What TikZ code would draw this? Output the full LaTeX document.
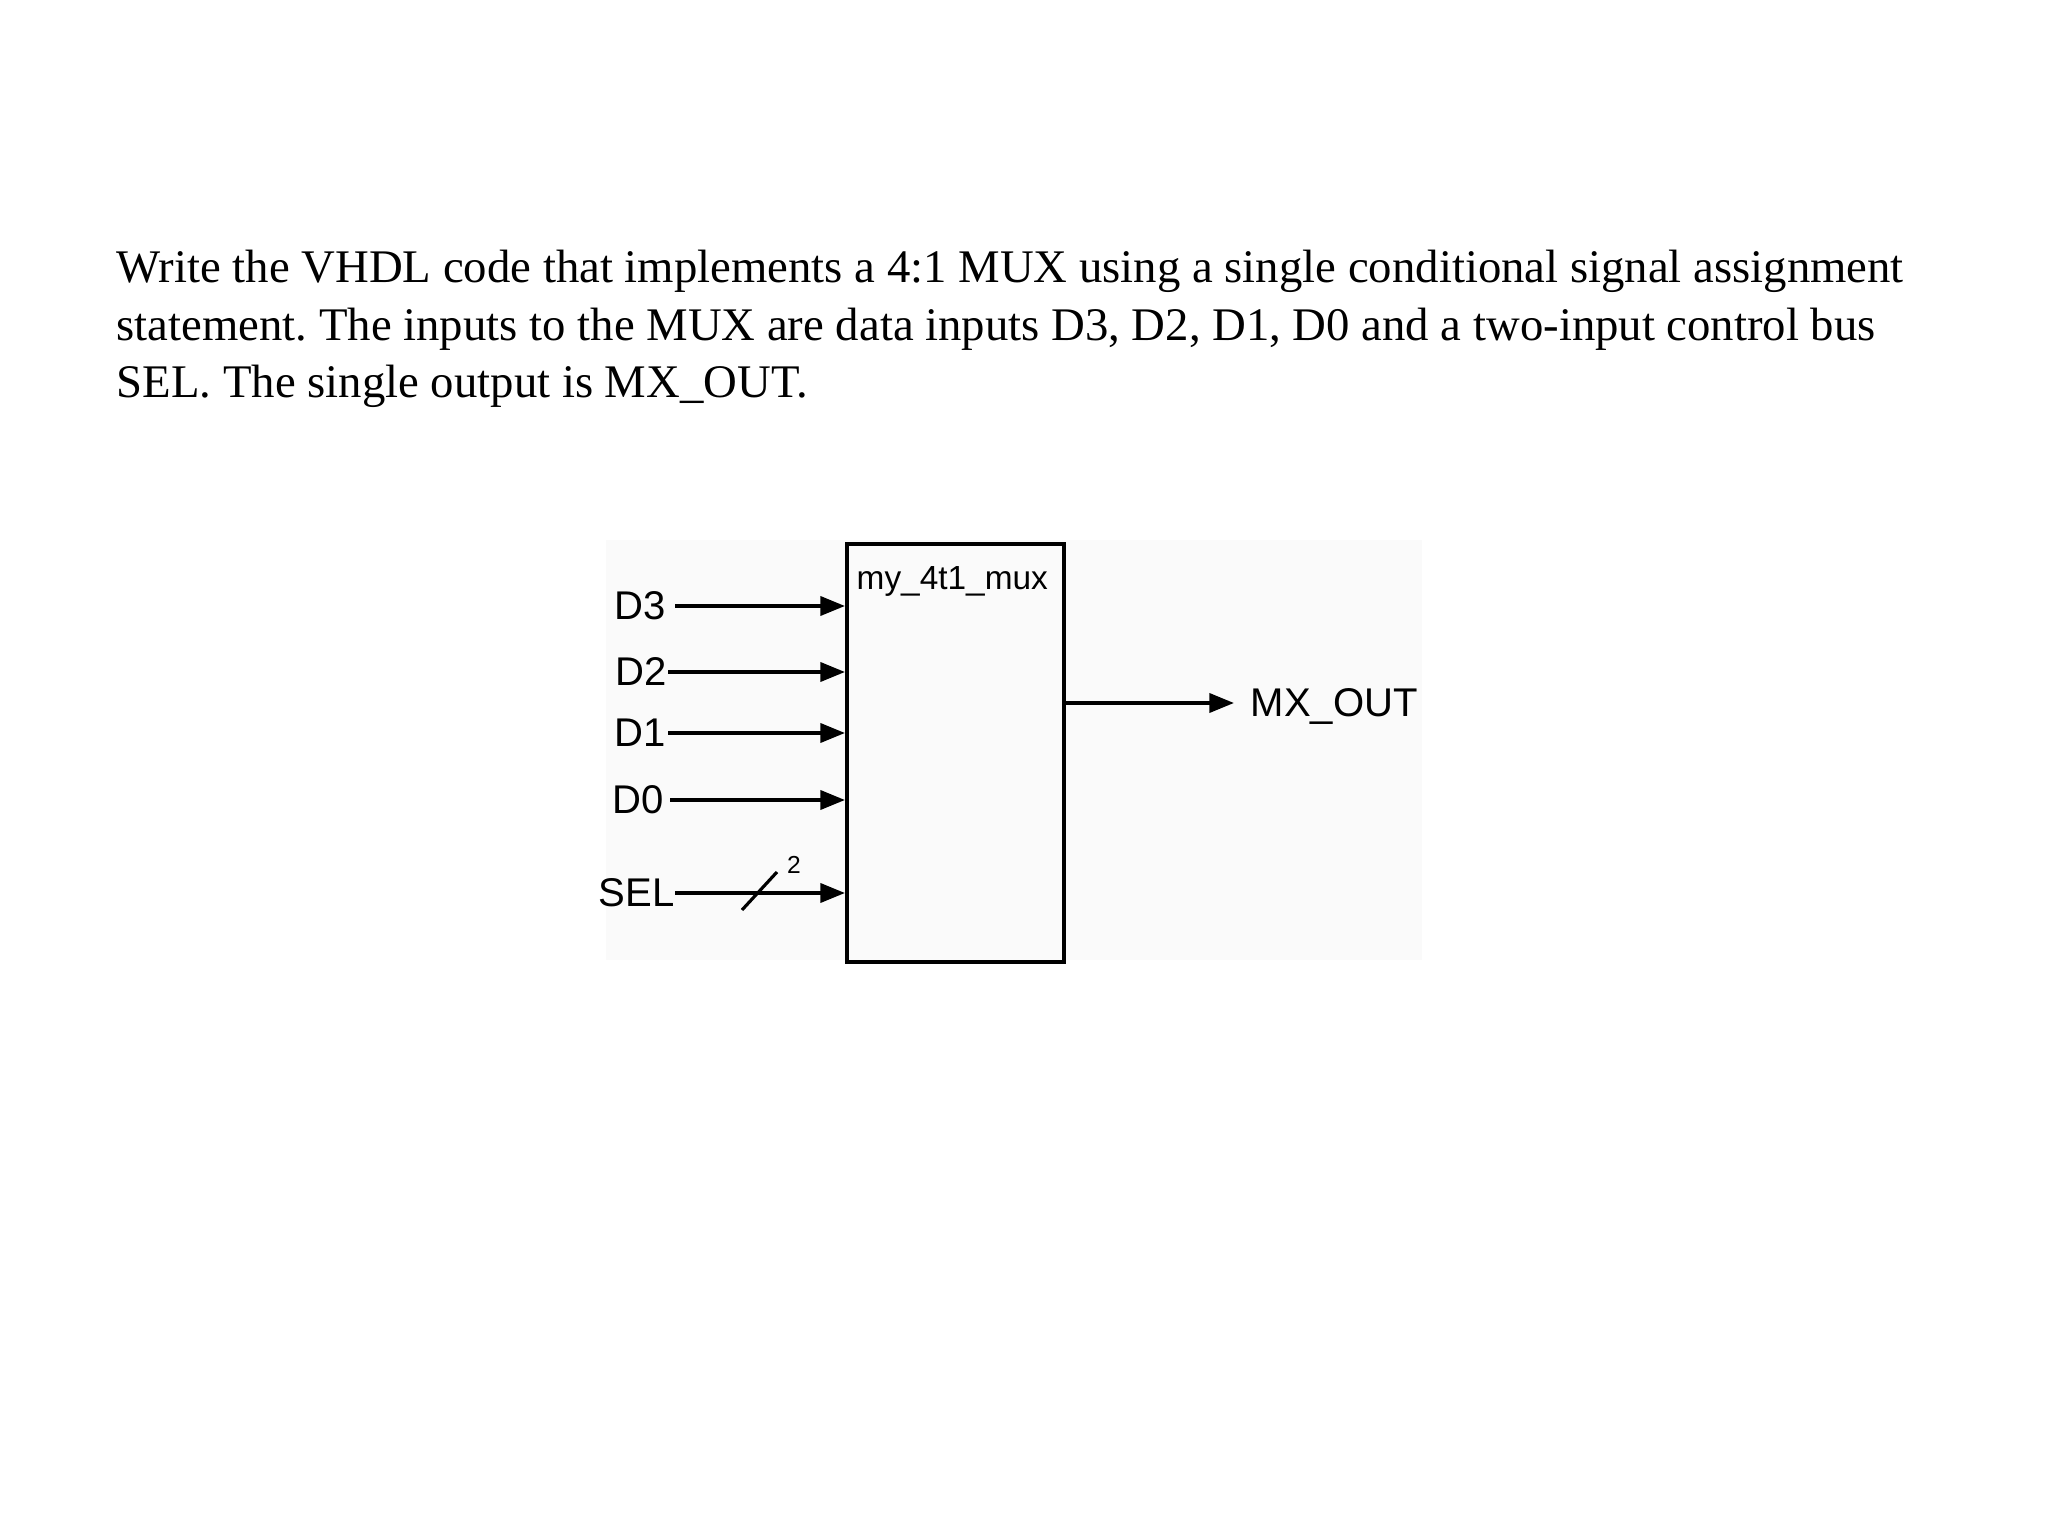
\documentclass[tikz,border=0pt]{standalone}
\usepackage{fontspec}
\setmainfont{Liberation Serif}
\newfontfamily\labelfont{Liberation Sans}
\usetikzlibrary{arrows.meta}
\frenchspacing

\tikzset{
  para/.style={anchor=base west, inner sep=0pt, font=\fontsize{13.3}{16}\selectfont},
  lbl/.style={inner sep=0pt, text depth=0pt, font=\labelfont\fontsize{11.4}{13}\selectfont},
  sig/.style={line width=1.05pt, -{Triangle[length=7pt,width=5.4pt]}},
}

\begin{document}
\begin{tikzpicture}
    \useasboundingbox (0,0) rectangle (20.48,-15.36);
    \fill[black!2] (6.06,-5.40) rectangle (14.22,-9.60);

    \node[para] (q1) at (1.16,-2.83) {Write the VHDL code that implements a 4:1 MUX using a single conditional signal assignment};
    \node[para] (q2) at (1.16,-3.405) {statement. The inputs to the MUX are data inputs D3, D2, D1, D0 and a two-input control bus};
    \node[para] (q3) at (1.16,-3.98) {SEL. The single output is MX\_OUT.};

    \node[draw, line width=1.1pt, minimum width=2.17cm, minimum height=4.18cm, inner sep=0pt, anchor=north west] (mux) at (8.45,-5.42) {};
    \node[lbl, anchor=west, font=\labelfont\fontsize{9.5}{11}\selectfont] (name) at (8.56,-5.78) {my\_4t1\_mux};

    \node[lbl, anchor=east] (d3) at (6.66,-6.06) {D3};
    \node[lbl, anchor=east] (d2) at (6.67,-6.72) {D2};
    \node[lbl, anchor=east] (d1) at (6.66,-7.33) {D1};
    \node[lbl, anchor=east] (d0) at (6.64,-8.00) {D0};
    \node[lbl, anchor=east] (sel) at (6.75,-8.93) {SEL};
    \node[lbl, anchor=west] (mxout) at (12.50,-7.03) {MX\_OUT};
    \node[lbl, font=\labelfont\fontsize{7}{8}\selectfont] (width) at (7.94,-8.65) {2};

    \draw[sig] ([xshift=0.9mm]d3.east) -- (d3 -| mux.west);
    \draw[sig] ([xshift=0.1mm]d2.east) -- (d2 -| mux.west);
    \draw[sig] ([xshift=0.2mm]d1.east) -- (d1 -| mux.west);
    \draw[sig] ([xshift=0.6mm]d0.east) -- (d0 -| mux.west);
    \draw[sig] (sel.east) -- (sel -| mux.west);
    \draw[line width=0.9pt] (7.42,-9.10) -- (7.77,-8.72);
    \draw[sig] (mxout.west -| mux.east) -- ([xshift=-1.6mm]mxout.west);
\end{tikzpicture}
\end{document}
